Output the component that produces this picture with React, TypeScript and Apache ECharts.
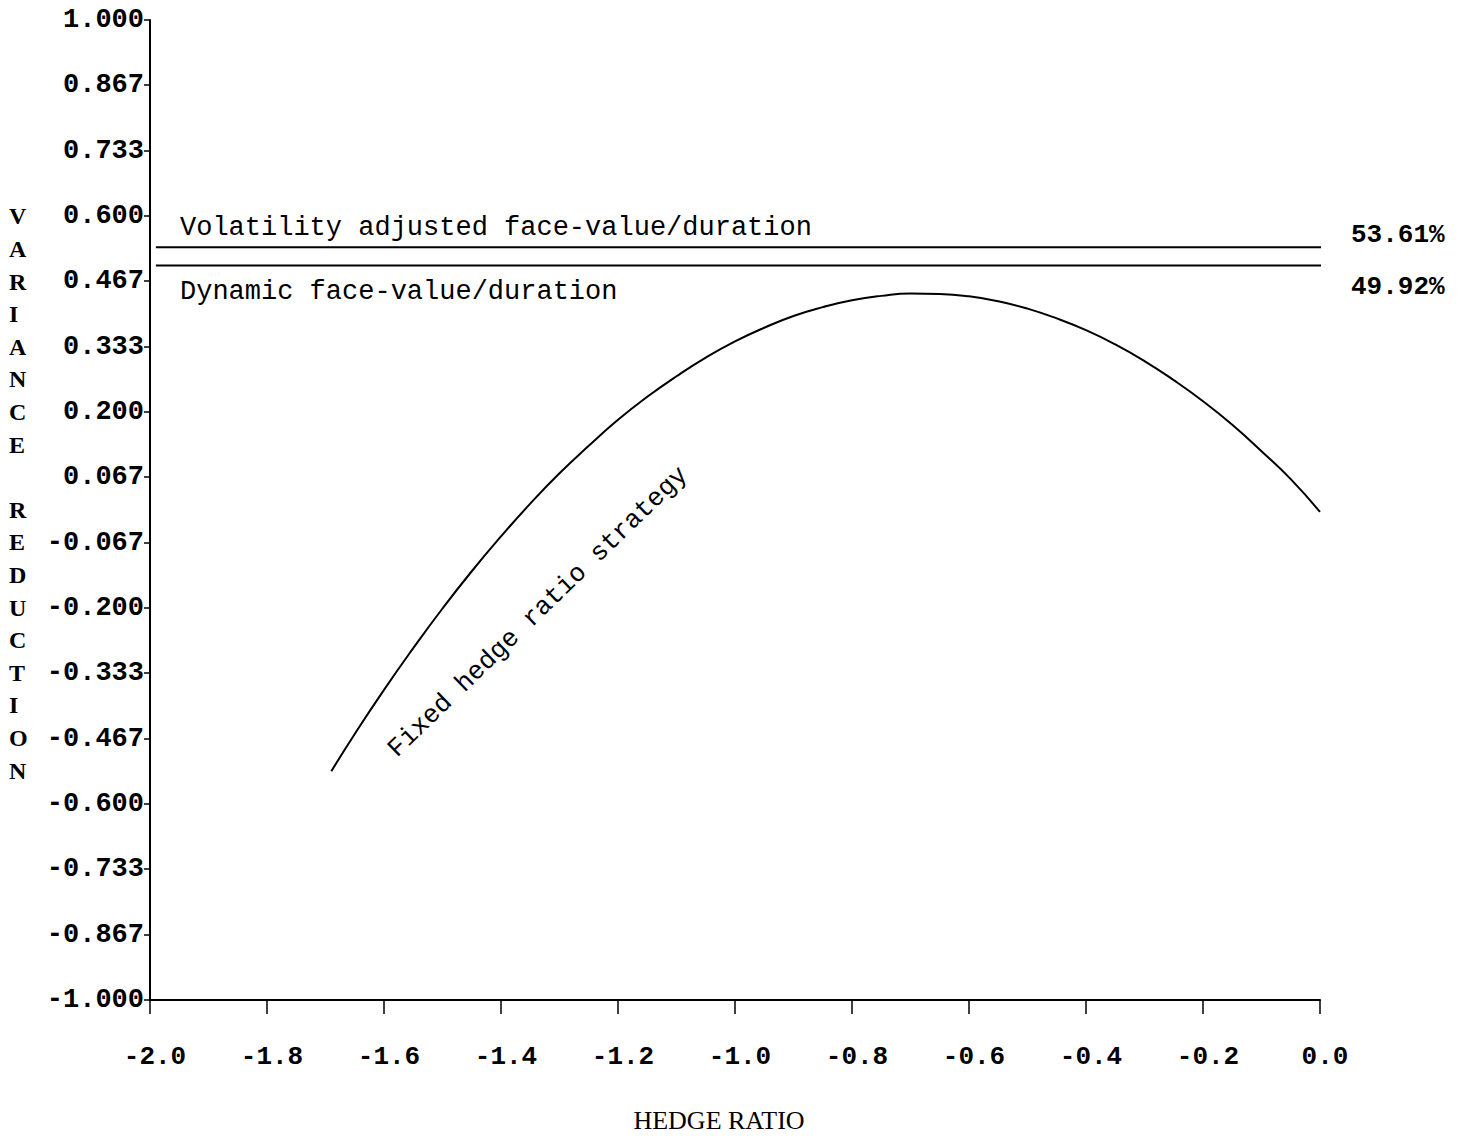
import React, { useEffect, useRef } from "react";
import * as echarts from "echarts";

// Hedge ratio (x) and variance reduction (y)
const hedgeRatio = [
  -1.69, -1.65, -1.6, -1.55, -1.5, -1.45, -1.4, -1.35, -1.3, -1.25, -1.2, -1.15,
  -1.1, -1.05, -1.0, -0.95, -0.9, -0.85, -0.8, -0.75, -0.7, -0.65, -0.6, -0.55,
  -0.5, -0.45, -0.4, -0.35, -0.3, -0.25, -0.2, -0.15, -0.1, -0.05, 0.0,
];
const fixedStrategy = [
  -0.533, -0.457, -0.367, -0.282, -0.201, -0.125, -0.054, 0.013, 0.075, 0.131,
  0.184, 0.231, 0.273, 0.311, 0.344, 0.372, 0.396, 0.414, 0.428, 0.437, 0.442,
  0.441, 0.436, 0.426, 0.411, 0.391, 0.367, 0.338, 0.304, 0.265, 0.222, 0.174,
  0.12, 0.063, -0.004,
];

// Horizontal strategies
const volatilityAdjustedValue = 0.5361;
const dynamicValue = 0.4992;
const volatilityAdjustedLabel = "53.61%";
const dynamicLabel = "49.92%";
const horizontalSpan = [-1.99, 0.025];

// Tick labels
const yTickLabels = [
  "-1.000", "-0.867", "-0.733", "-0.600", "-0.467", "-0.333", "-0.200", "-0.067",
  "0.067", "0.200", "0.333", "0.467", "0.600", "0.733", "0.867", "1.000",
];
const xTickLabels = [
  "-2.0", "-1.8", "-1.6", "-1.4", "-1.2", "-1.0", "-0.8", "-0.6", "-0.4", "-0.2", "0.0",
];

const yTickValues = yTickLabels.map(Number);
const xTickValues = xTickLabels.map(Number);

const mono = '"Liberation Mono", "DejaVu Sans Mono", monospace';
const serif = '"Liberation Serif", "DejaVu Serif", serif';

function nearestLabel(labels: string[], values: number[], v: number) {
  let best = 0;
  for (let i = 1; i < values.length; i++) {
    if (Math.abs(values[i] - v) < Math.abs(values[best] - v)) best = i;
  }
  return labels[best];
}

export default function App() {
  const ref = useRef<HTMLDivElement>(null);

  useEffect(() => {
    if (!ref.current) return;
    const chart = echarts.init(ref.current, undefined, { renderer: "svg" });

    const curveData = hedgeRatio.map((h, i) => [h, fixedStrategy[i]]);
    const volData = horizontalSpan.map((h) => [h, volatilityAdjustedValue]);
    const dynData = horizontalSpan.map((h) => [h, dynamicValue]);

    chart.setOption({
      animation: false,
      backgroundColor: "#ffffff",
      grid: {
        left: 150,
        right: 146,
        top: 20,
        bottom: 136,
        containLabel: false,
        outerBoundsMode: "none",
      },
      xAxis: {
        type: "value",
        min: -2,
        max: 0,
        name: "HEDGE RATIO",
        nameLocation: "middle",
        nameGap: 107,
        nameTextStyle: {
          fontFamily: serif,
          fontSize: 26,
          lineHeight: 26,
          color: "#000",
          padding: [0, 32, 0, 0],
        },
        axisLine: { show: true, onZero: false, lineStyle: { color: "#000", width: 2 } },
        axisTick: {
          show: true,
          length: 14,
          customValues: xTickValues,
          lineStyle: { color: "#000", width: 1.5 },
        },
        axisLabel: {
          customValues: xTickValues,
          formatter: (v: number) => nearestLabel(xTickLabels, xTickValues, v),
          margin: 44,
          padding: [0, 0, 0, 10],
          fontFamily: mono,
          fontWeight: "bold",
          fontSize: 26,
          color: "#000",
        },
        splitLine: { show: false },
      },
      yAxis: {
        type: "value",
        min: -1,
        max: 1,
        axisLine: { show: true, onZero: false, lineStyle: { color: "#000", width: 2 } },
        axisTick: {
          show: true,
          length: 6,
          customValues: yTickValues,
          lineStyle: { color: "#000", width: 1.5 },
        },
        axisLabel: {
          customValues: yTickValues,
          formatter: (v: number) => nearestLabel(yTickLabels, yTickValues, v),
          margin: 6,
          fontFamily: mono,
          fontWeight: "bold",
          fontSize: 27,
          color: "#000",
        },
        splitLine: { show: false },
      },
      series: [
        {
          name: "Fixed hedge ratio strategy",
          type: "line",
          data: curveData,
          showSymbol: false,
          smooth: true,
          lineStyle: { color: "#000", width: 2 },
        },
        {
          name: "Volatility adjusted face-value/duration",
          type: "line",
          data: volData,
          showSymbol: false,
          clip: false,
          lineStyle: { color: "#000", width: 2 },
          endLabel: {
            show: true,
            formatter: volatilityAdjustedLabel,
            offset: [22, -12],
            fontFamily: mono,
            fontWeight: "bold",
            fontSize: 26,
            color: "#000",
          },
        },
        {
          name: "Dynamic face-value/duration",
          type: "line",
          data: dynData,
          showSymbol: false,
          clip: false,
          lineStyle: { color: "#000", width: 2 },
          endLabel: {
            show: true,
            formatter: dynamicLabel,
            offset: [22, 22],
            fontFamily: mono,
            fontWeight: "bold",
            fontSize: 26,
            color: "#000",
          },
        },
      ],
      graphic: [
        {
          type: "text",
          left: 9,
          top: 200,
          style: {
            text: "V\nA\nR\nI\nA\nN\nC\nE\n \nR\nE\nD\nU\nC\nT\nI\nO\nN",
            fontFamily: serif,
            fontWeight: "bold",
            fontSize: 24,
            lineHeight: 32.6,
            fill: "#000",
            textAlign: "left",
          },
        },
        {
          type: "text",
          x: 180,
          y: 228,
          style: {
            text: "Volatility adjusted face-value/duration",
            fontFamily: mono,
            fontSize: 27,
            fill: "#000",
            textAlign: "left",
            textVerticalAlign: "middle",
          },
        },
        {
          type: "text",
          x: 180,
          y: 292,
          style: {
            text: "Dynamic face-value/duration",
            fontFamily: mono,
            fontSize: 27,
            fill: "#000",
            textAlign: "left",
            textVerticalAlign: "middle",
          },
        },
        {
          type: "text",
          x: 538,
          y: 612,
          rotation: (44 * Math.PI) / 180,
          style: {
            text: "Fixed hedge ratio strategy",
            fontFamily: mono,
            fontSize: 26,
            fill: "#000",
            textAlign: "center",
            textVerticalAlign: "middle",
          },
        },
      ],
    });

    return () => {
      chart.dispose();
    };
  }, []);

  return (
    <div
      ref={ref}
      style={{ position: "fixed", left: 0, top: 0, width: 1466, height: 1136, background: "#fff" }}
    />
  );
}
